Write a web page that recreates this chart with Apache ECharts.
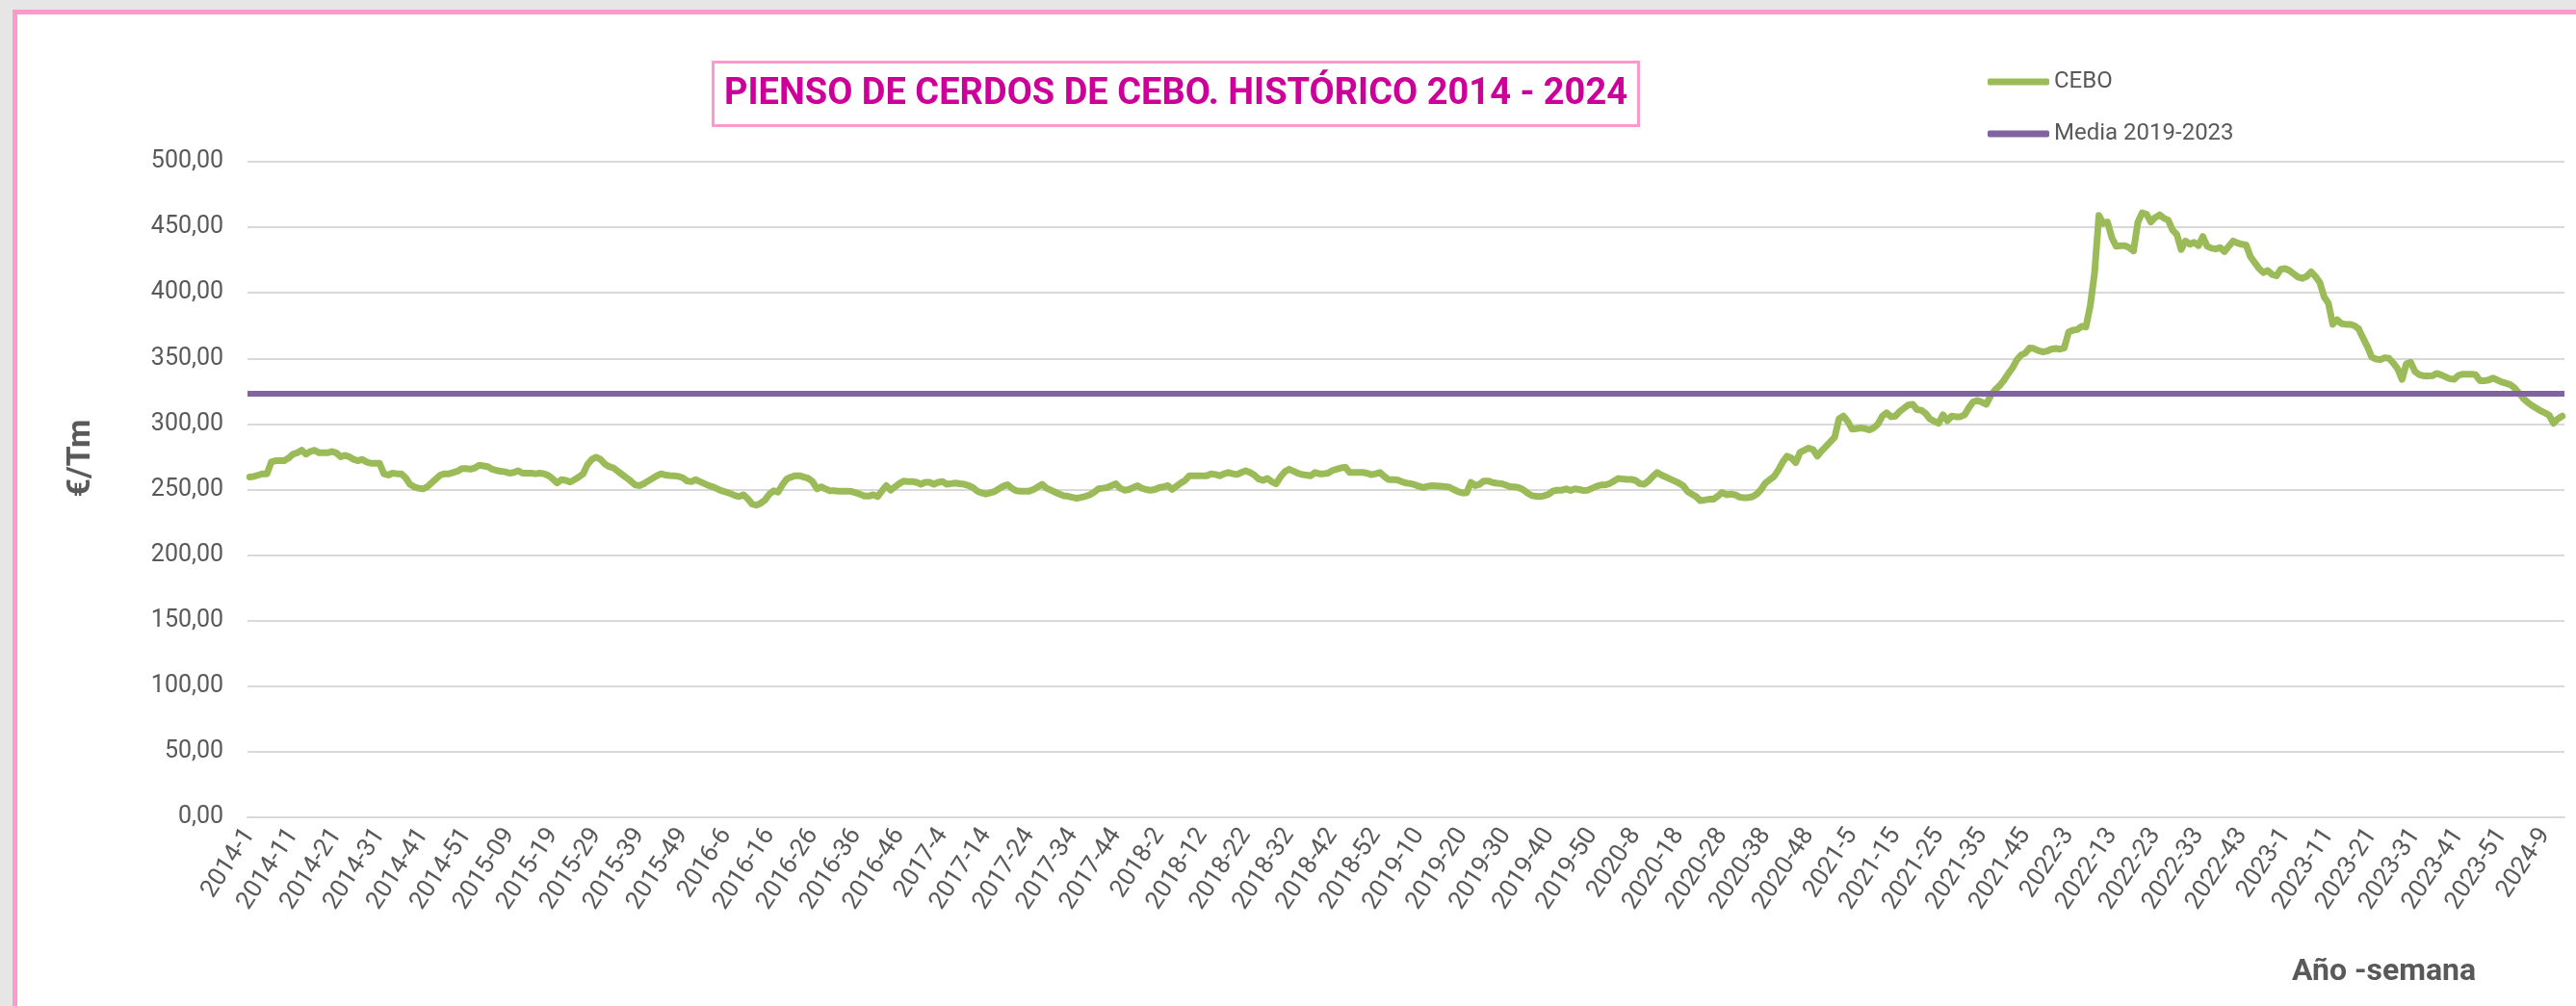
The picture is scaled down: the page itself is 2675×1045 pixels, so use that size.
<!DOCTYPE html>
<html>
<head>
<meta charset="utf-8">
<script src="https://cdn.jsdelivr.net/npm/echarts@6/dist/echarts.min.js"></script>
<style>
  html, body { margin: 0; padding: 0; width: 2675px; height: 1045px; overflow: hidden; background: #e6e6e6; }
  #frame { position: absolute; left: 13px; top: 10px; width: 2700px; height: 1100px; background: #fff;
           border-left: 5px solid #ff99cc; border-top: 5px solid #ff99cc; }
  #chart { position: absolute; left: 0; top: 0; width: 2675px; height: 1045px; }
</style>
</head>
<body>
<div id="frame"></div>
<div id="chart"></div>
<script>
// weeks shown per year (2024 only up to week 13)
const years = [2014, 2015, 2016, 2017, 2018, 2019, 2020, 2021, 2022, 2023, 2024]
const weeksInYear = [52, 53, 52, 52, 52, 52, 53, 52, 52, 52, 13]

// €/Tm, one value per week
const cebo2014 = [259.5, 260, 261, 262, 262, 271, 272, 272, 272, 274,
  277, 278, 280, 277, 279, 280, 278, 278, 278, 279,
  278, 275, 276, 275, 273, 272, 273, 271, 270, 270,
  270, 262, 261, 262.5, 262, 262, 259, 254, 252, 251,
  250.5, 252, 255, 258, 261, 262, 262, 263, 264, 266,
  266, 265.5]
const cebo2015 = [266.5, 268.5, 268, 267.5, 265.5, 264.5, 264, 263.5, 262.5, 263,
  264.3, 262.5, 262.5, 262.5, 262, 262.5, 262, 260.6, 258, 255,
  257.5, 257, 255.7, 257.5, 259.5, 262, 269, 273, 274.6, 273,
  269.5, 267.5, 266.5, 264, 261.5, 259, 256.5, 253.5, 253, 254.4,
  256.5, 258.5, 260.5, 262, 261, 260.6, 260.5, 260, 259, 256.5,
  256, 257.5, 256]
const cebo2016 = [254.5, 253, 252, 250.5, 249, 248, 247, 245.5, 244.6, 246,
  243, 239, 238, 239.5, 242, 246.5, 249, 248, 253.5, 258,
  259.5, 260.5, 260.5, 259.5, 258.5, 256, 250.5, 252, 250.5, 249,
  249, 248.8, 248.8, 248.8, 248.5, 247.5, 246.3, 245, 245, 246,
  244.6, 249, 253, 249.5, 252, 254.5, 256.4, 256, 256, 255.5,
  254, 255.5]
const cebo2017 = [255.5, 254, 255.5, 256, 254, 254.5, 255, 254.4, 254, 253,
  251.5, 248.8, 247.5, 246.6, 247.5, 248.5, 250.5, 252.5, 253.7, 251,
  249, 248.8, 248.8, 248.8, 250, 252, 254, 251, 249.5, 248,
  246.5, 245.2, 244.8, 244, 243.3, 244, 244.8, 246, 248, 250.5,
  251, 251.5, 253, 254.4, 251, 249.5, 250, 251.5, 253, 251,
  250, 249.5]
const cebo2018 = [250, 251.5, 252, 253, 250, 252.5, 255, 257, 260.5, 260.5,
  260.5, 260.5, 260.5, 262, 261.5, 260.5, 262, 263, 262, 261.5,
  263, 264.3, 263, 261, 258, 257, 258.5, 256, 254.4, 259.5,
  263.5, 265.5, 264, 262.5, 261.5, 261, 260.5, 263, 262, 262,
  262.5, 264.5, 265.5, 266.5, 267, 263, 263, 263, 263, 262.5,
  261.3, 262]
const cebo2019 = [263, 260, 257.5, 257.5, 257.4, 256, 255, 254.5, 253.7, 252.5,
  251.5, 252.5, 253, 252.8, 252.5, 252.2, 251.8, 250, 248.5, 247.5,
  247.5, 255.5, 253, 254, 256.5, 256.5, 255.3, 254.8, 254.5, 253.5,
  252.2, 252, 251.5, 250, 247.5, 245.5, 244.8, 244.6, 245.3, 246.5,
  249, 249.5, 249.5, 250.5, 249.3, 250.5, 250, 249.3, 249.5, 251,
  252.5, 253.5]
const cebo2020 = [253.5, 254.5, 256.5, 258.5, 258, 257.7, 257.7, 257, 254.5, 254,
  256.5, 260, 263, 261, 259.5, 258, 256.5, 255, 253, 248.5,
  246.5, 244.6, 241.5, 242, 242.6, 242.6, 245, 247.8, 246, 246.5,
  246, 244.2, 243.8, 243.8, 244.5, 246.5, 250, 255, 257.5, 260,
  265, 271, 275.4, 274, 270.5, 278.4, 280, 281.6, 280.5, 275.5,
  279.5, 283, 286.5]
const cebo2021 = [290, 304, 306, 302, 296, 296.5, 297, 296.5, 295.5, 297,
  300, 306, 308.5, 305.5, 306, 309.5, 312, 314.5, 315, 311,
  310.5, 308, 303.8, 302, 300.5, 307, 302.5, 306, 305.5, 305.5,
  307, 312.5, 317, 318, 316.5, 315, 321.5, 326, 329, 333,
  338, 342.5, 348.5, 352.5, 354, 358, 357.5, 356, 355, 355.5,
  357, 357.5]
const cebo2022 = [357, 358, 370, 371.5, 372, 374.5, 374, 390, 415, 459,
  453, 454, 442, 435.5, 436, 436, 434.5, 432, 454, 461,
  460, 454, 457.5, 459.5, 457, 455.5, 448, 444.5, 433, 439.5,
  437, 438.5, 436, 443, 435.5, 434, 433.5, 434.5, 431.5, 435.5,
  439.5, 438, 437, 436.5, 427.5, 423, 418.5, 415.5, 417, 414,
  413, 418]
const cebo2023 = [418.5, 417, 414.5, 412, 411, 412.6, 416, 412.5, 408, 397,
  392, 376, 379.5, 376.5, 376, 376, 375, 372.5, 365.5, 359,
  351, 349.5, 349, 350.5, 350, 346.5, 342, 334, 346, 347,
  340, 337.5, 336.7, 336.7, 336.8, 338.5, 337.5, 336, 334.5, 334,
  337, 338, 338, 338, 337.5, 333, 333, 333.5, 335, 333.5,
  332, 331]
const cebo2024 = [330, 327.5, 323.5, 319.5, 316.5, 314, 312, 310, 308.5, 306.5,
  300.5, 304, 306]

// average 2019-2023
const mediaValue = 323

const ceboByYear = [cebo2014, cebo2015, cebo2016, cebo2017, cebo2018, cebo2019,
  cebo2020, cebo2021, cebo2022, cebo2023, cebo2024]

let categories = []
years.forEach((y, k) => {
  for (let w = 1; w <= weeksInYear[k]; w++) {
    // 2015 weeks are written with two digits in the source sheet
    categories.push(y + '-' + (y === 2015 ? String(w).padStart(2, '0') : w))
  }
})
const cebo = [].concat(...ceboByYear)

const grey = '#595959'
const font = 'Roboto'

let myChart = echarts.init(document.getElementById('chart'), null, { width: 2675, height: 1045 })

let option
option = {
  animation: false,
  title: {
    text: 'PIENSO DE CERDOS DE CEBO. HISTÓRICO 2014 - 2024',
    left: 740,
    top: 64,
    borderColor: '#ff99cc',
    borderWidth: 3,
    padding: [15, 12, 14, 12],
    textStyle: { color: '#cc0099', fontFamily: font, fontWeight: 'bold', fontSize: 38 }
  },
  legend: {
    orient: 'vertical',
    left: 2059,
    top: 68,
    itemWidth: 64,
    itemHeight: 7,
    itemGap: 30,
    icon: 'roundRect',
    textStyle: { fontFamily: font, fontSize: 24, color: grey },
    data: ['CEBO', 'Media 2019-2023']
  },
  grid: { left: 257, right: 12, top: 168, bottom: 196 },
  xAxis: {
    type: 'category',
    data: categories,
    boundaryGap: true,
    axisLine: { show: true, lineStyle: { color: '#d9d9d9', width: 2 } },
    axisTick: { show: false },
    axisLabel: { interval: 9, rotate: 57, margin: 14, fontFamily: font, fontSize: 26, color: grey },
    splitLine: { show: false }
  },
  yAxis: {
    type: 'value',
    min: 0,
    max: 500,
    interval: 50,
    axisLine: { show: false },
    axisTick: { show: false },
    axisLabel: {
      margin: 25, fontFamily: font, fontSize: 25, color: grey,
      formatter: v => v.toFixed(2).replace('.', ',')
    },
    splitLine: { lineStyle: { color: '#d9d9d9', width: 2 } }
  },
  graphic: [
    {
      type: 'text', x: 84, y: 476, rotation: Math.PI / 2,
      style: { text: '€/Tm', font: 'bold 34px Roboto', fill: grey, align: 'center', verticalAlign: 'middle', textAlign: 'center', textVerticalAlign: 'middle' }
    },
    {
      type: 'text', left: 2380, top: 994,
      style: { text: 'Año -semana', font: 'bold 32px Roboto', fill: grey }
    }
  ],
  series: [
    {
      name: 'CEBO',
      type: 'line',
      data: cebo,
      symbol: 'none',
      showSymbol: false,
      lineStyle: { color: '#9bbb59', width: 7, cap: 'round', join: 'round' },
      itemStyle: { color: '#9bbb59' }
    },
    {
      name: 'Media 2019-2023',
      type: 'line',
      data: [],
      symbol: 'none',
      lineStyle: { color: '#8064a2', width: 6 },
      itemStyle: { color: '#8064a2' },
      markLine: {
        silent: true,
        symbol: ['none', 'none'],
        label: { show: false },
        lineStyle: { color: '#8064a2', width: 6, type: 'solid' },
        data: [{ yAxis: mediaValue }]
      }
    }
  ]
}
myChart.setOption(option)
</script>
</body>
</html>
